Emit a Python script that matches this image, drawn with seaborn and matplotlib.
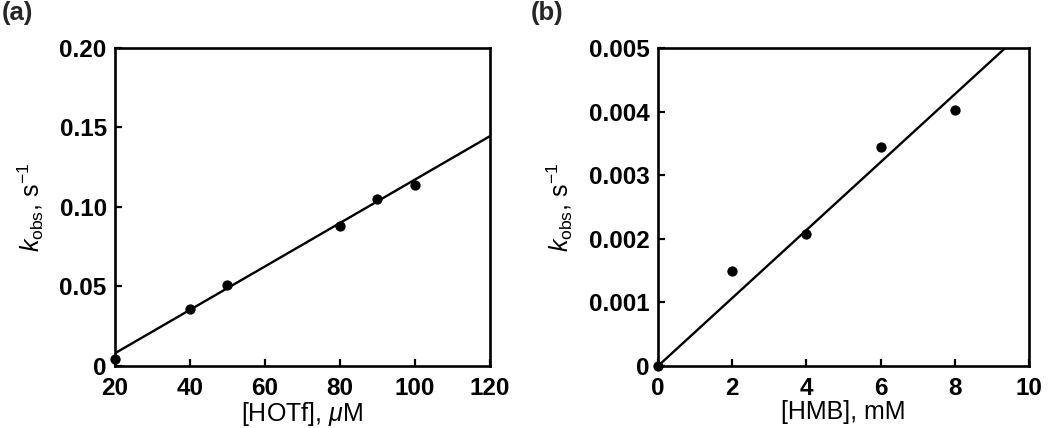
import matplotlib
matplotlib.use("Agg")
import matplotlib.pyplot as plt
import seaborn as sns
import pandas as pd

# Panel (a): k_obs gegen [HOTf]
hotf_uM = [20, 40, 50, 80, 90, 100]
kobs_a = [0.0046, 0.0358, 0.0509, 0.0881, 0.1050, 0.1137]
fit_a_x = [20, 120]
fit_a_y = [0.0080, 0.1445]

# Panel (b): k_obs gegen [HMB]
hmb_mM = [0, 2, 4, 6, 8]
kobs_b = [0.0, 0.00149, 0.00207, 0.00344, 0.00403]
fit_b_x = [0, 9.36]
fit_b_y = [0.0, 0.0050]

xticks_a = [20, 40, 60, 80, 100, 120]
yticks_a = [0, 0.05, 0.10, 0.15, 0.20]
yticklabels_a = ["0", "0.05", "0.10", "0.15", "0.20"]
xticks_b = [0, 2, 4, 6, 8, 10]
yticks_b = [0, 0.001, 0.002, 0.003, 0.004, 0.005]
yticklabels_b = ["0", "0.001", "0.002", "0.003", "0.004", "0.005"]

sns.set_style("ticks")
plt.rcParams['font.family'] = ['Liberation Sans', 'DejaVu Sans']
plt.rcParams['mathtext.fontset'] = 'custom'
plt.rcParams['mathtext.rm'] = 'Liberation Sans'
plt.rcParams['mathtext.it'] = 'Liberation Sans:italic'
plt.rcParams['mathtext.bf'] = 'Liberation Sans:bold'

fig = plt.figure(figsize=(10.5, 4.28), dpi=100)
ax_a = fig.add_axes([0.1095, 0.1449, 0.357, 0.743])
ax_b = fig.add_axes([0.6267, 0.1449, 0.3533, 0.743])

df_a = pd.DataFrame({'x': hotf_uM, 'y': kobs_a})
df_b = pd.DataFrame({'x': hmb_mM, 'y': kobs_b})

for ax, df, fx, fy in [(ax_a, df_a, fit_a_x, fit_a_y), (ax_b, df_b, fit_b_x, fit_b_y)]:
    sns.lineplot(x=fx, y=fy, ax=ax, color='black', linewidth=1.7)
    sns.scatterplot(data=df, x='x', y='y', ax=ax, color='black', s=55,
                    edgecolor='black', linewidth=0, clip_on=False, zorder=5)

lab_size = 18
tick_size = 17.5

# Achsen (a)
ax_a.set_xlim(20, 120)
ax_a.set_ylim(0, 0.20)
ax_a.set_xticks(xticks_a)
ax_a.set_yticks(yticks_a)
ax_a.set_yticklabels(yticklabels_a)
ax_a.set_xlabel(r"[HOTf], $\mathit{\mu}$M", fontsize=lab_size)
ax_a.set_ylabel(r"$\mathit{k}_{\rm obs}$, s$^{-1}$", fontsize=lab_size, labelpad=10)

# Achsen (b)
ax_b.set_xlim(0, 10)
ax_b.set_ylim(0, 0.005)
ax_b.set_xticks(xticks_b)
ax_b.set_yticks(yticks_b)
ax_b.set_yticklabels(yticklabels_b)
ax_b.set_xlabel("[HMB], mM", fontsize=lab_size)
ax_b.set_ylabel(r"$\mathit{k}_{\rm obs}$, s$^{-1}$", fontsize=lab_size, labelpad=10)

for ax in [ax_a, ax_b]:
    for sp in ax.spines.values():
        sp.set_visible(True)
        sp.set_linewidth(1.9)
        sp.set_color('black')
    ax.tick_params(direction='in', length=5, width=1.6, labelsize=tick_size,
                   top=False, right=False, colors='black')
    ax.tick_params(axis='x', pad=8)
    ax.tick_params(axis='y', pad=6)
    for lab in ax.get_xticklabels() + ax.get_yticklabels():
        lab.set_fontweight('bold')
    ax.xaxis.label.set_color('black')
    ax.yaxis.label.set_color('black')
    ax.xaxis.labelpad = 0

fig.text(0.002, 0.998, "(a)", fontsize=18.5, fontweight='bold', va='top', ha='left')
fig.text(0.505, 0.998, "(b)", fontsize=18.5, fontweight='bold', va='top', ha='left')

fig.savefig("out.png", dpi=100)
